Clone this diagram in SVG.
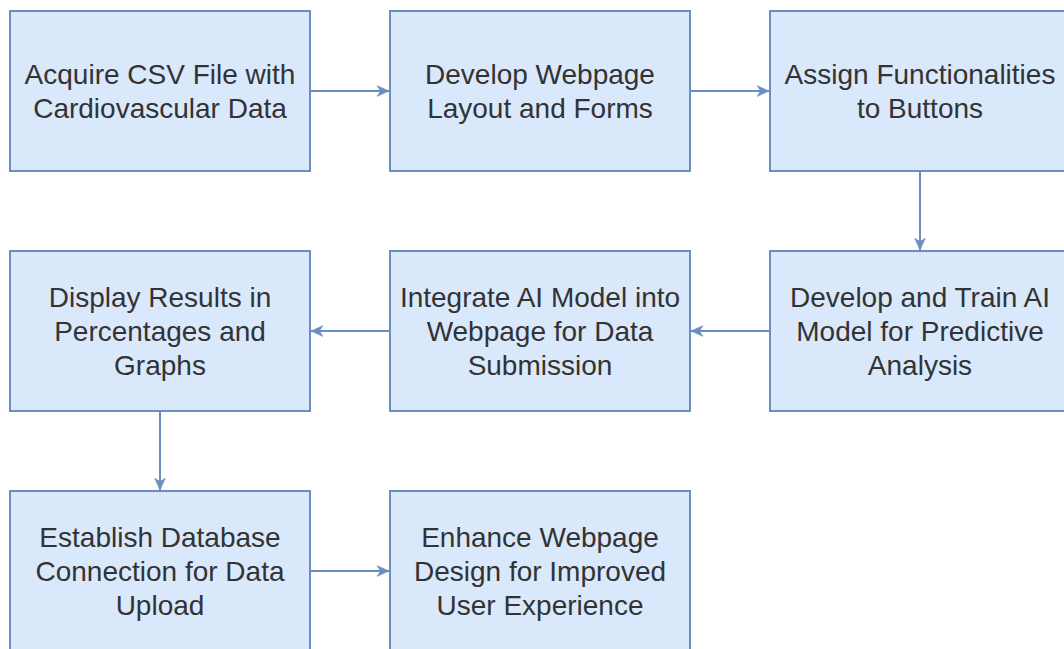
<svg xmlns="http://www.w3.org/2000/svg" width="1064" height="649" viewBox="0 0 1064 649">
  <style>
    .box { fill: #dae8fc; stroke: #6c8ebf; stroke-width: 2; }
    .lbl { font-family: "Liberation Sans", Arial, sans-serif; font-size: 28px; fill: #333333; text-anchor: middle; }
    .edge { fill: none; stroke: #6c8ebf; stroke-width: 2; marker-end: url(#arrow); }
  </style>
  <defs>
    <marker id="arrow" viewBox="0 0 12 12" refX="12" refY="6" markerWidth="12" markerHeight="12" markerUnits="userSpaceOnUse" orient="auto">
      <path d="M0,0.5 L12,6 L0,11.5 L3.5,6 Z" fill="#6c8ebf" stroke="#6c8ebf" stroke-width="0.5"/>
    </marker>
  </defs>
  <rect width="1064" height="649" fill="#ffffff"/>

  <g id="connectors">
    <path class="edge" d="M310,91 L389,91"/>
    <path class="edge" d="M690,91 L769,91"/>
    <path class="edge" d="M920,171 L920,250"/>
    <path class="edge" d="M770,331 L691,331"/>
    <path class="edge" d="M390,331 L311,331"/>
    <path class="edge" d="M160,411 L160,490"/>
    <path class="edge" d="M310,571 L389,571"/>
  </g>

  <g id="acquire-csv">
    <rect class="box" x="10" y="11" width="300" height="160"/>
    <text class="lbl" x="160" y="84.2">Acquire CSV File with</text>
    <text class="lbl" x="160" y="117.8">Cardiovascular Data</text>
  </g>
  <g id="develop-webpage">
    <rect class="box" x="390" y="11" width="300" height="160"/>
    <text class="lbl" x="540" y="84.2">Develop Webpage</text>
    <text class="lbl" x="540" y="117.8">Layout and Forms</text>
  </g>
  <g id="assign-functionalities">
    <rect class="box" x="770" y="11" width="300" height="160"/>
    <text class="lbl" x="920" y="84.2">Assign Functionalities</text>
    <text class="lbl" x="920" y="117.8">to Buttons</text>
  </g>
  <g id="train-model">
    <rect class="box" x="770" y="251" width="300" height="160"/>
    <text class="lbl" x="920" y="307.4">Develop and Train AI</text>
    <text class="lbl" x="920" y="341">Model for Predictive</text>
    <text class="lbl" x="920" y="374.6">Analysis</text>
  </g>
  <g id="integrate-model">
    <rect class="box" x="390" y="251" width="300" height="160"/>
    <text class="lbl" x="540" y="307.4">Integrate AI Model into</text>
    <text class="lbl" x="540" y="341">Webpage for Data</text>
    <text class="lbl" x="540" y="374.6">Submission</text>
  </g>
  <g id="display-results">
    <rect class="box" x="10" y="251" width="300" height="160"/>
    <text class="lbl" x="160" y="307.4">Display Results in</text>
    <text class="lbl" x="160" y="341">Percentages and</text>
    <text class="lbl" x="160" y="374.6">Graphs</text>
  </g>
  <g id="database-connection">
    <rect class="box" x="10" y="491" width="300" height="160"/>
    <text class="lbl" x="160" y="547.4">Establish Database</text>
    <text class="lbl" x="160" y="581">Connection for Data</text>
    <text class="lbl" x="160" y="614.6">Upload</text>
  </g>
  <g id="enhance-design">
    <rect class="box" x="390" y="491" width="300" height="160"/>
    <text class="lbl" x="540" y="547.4">Enhance Webpage</text>
    <text class="lbl" x="540" y="581">Design for Improved</text>
    <text class="lbl" x="540" y="614.6">User Experience</text>
  </g>
</svg>
